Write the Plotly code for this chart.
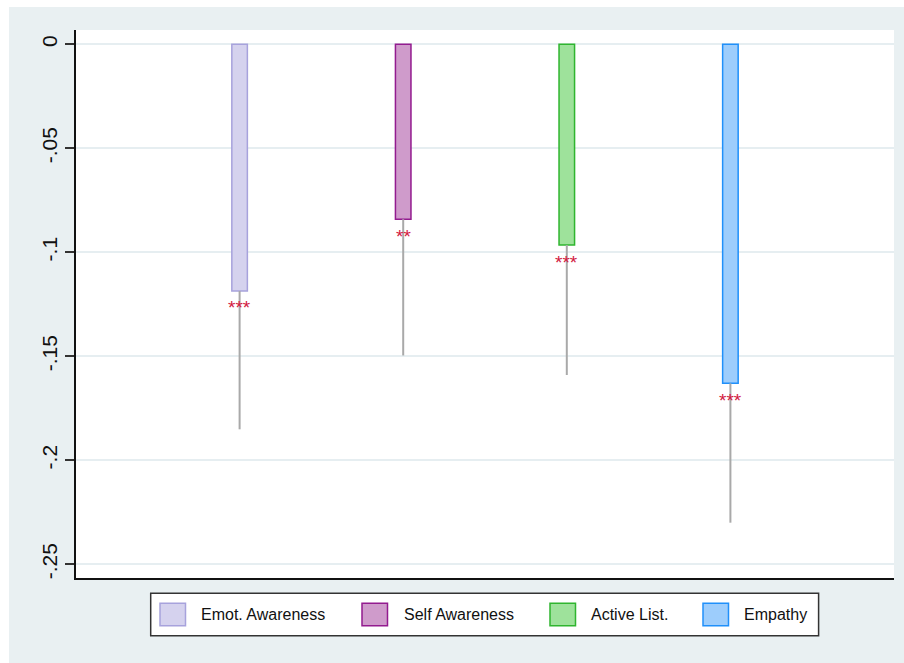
import plotly.graph_objects as go

# Estimated coefficients with lower 95% bounds for each skill
categories = ["Emot. Awareness", "Self Awareness", "Active List.", "Empathy"]
coef = [-0.1186, -0.0841, -0.0965, -0.1630]
ci_low = [-0.1851, -0.1496, -0.1590, -0.2300]
stars = ["***", "**", "***", "***"]
tick_vals = [0, -0.05, -0.10, -0.15, -0.20, -0.25]
tick_text = ["0", "-.05", "-.1", "-.15", "-.2", "-.25"]

fills = ["#d5d2ee", "#cf9bcb", "#9ee29b", "#9dcdfc"]
edges = ["#a7a2dc", "#931b8f", "#2fb52f", "#2090fa"]

W, H = 904, 663
L, R, T, B = 76, 10, 30, 85
pw, ph = W - L - R, H - T - B


def px_x(p):
    return (p - L) / pw


def px_y(p):
    return (H - B - p) / ph


fig = go.Figure()
for i, (name, v, lo) in enumerate(zip(categories, coef, ci_low)):
    fig.add_trace(go.Bar(
        x=[i + 1], y=[v], name=name, width=0.095,
        marker=dict(color=fills[i], line=dict(color=edges[i], width=1.5)),
        error_y=dict(type="data", symmetric=False, array=[0], arrayminus=[v - lo],
                     color="#a9a9a9", thickness=2, width=0),
        showlegend=False, hoverinfo="skip",
    ))

annotations = []
for i, (v, s) in enumerate(zip(coef, stars)):
    annotations.append(dict(
        x=i + 1, y=v, xref="x", yref="y", text=s, showarrow=False,
        yanchor="middle", yshift=-17,
        font=dict(family="Liberation Sans, Arial", size=19, color="#d2193f"),
    ))

shapes = [
    # white edge strips around the outer panel
    dict(type="rect", xref="paper", yref="paper", x0=px_x(0), x1=px_x(9),
         y0=px_y(H), y1=px_y(0), fillcolor="white", line=dict(width=0), layer="above"),
    dict(type="rect", xref="paper", yref="paper", x0=px_x(0), x1=px_x(W),
         y0=px_y(7), y1=px_y(0), fillcolor="white", line=dict(width=0), layer="above"),
    # legend frame
    dict(type="rect", xref="paper", yref="paper", x0=px_x(150.7), x1=px_x(818.6),
         y0=px_y(635.7), y1=px_y(593.3), fillcolor="white",
         line=dict(color="#333333", width=1.5), layer="above"),
]

# legend swatches and labels
sw_left = [160, 362, 550, 703]
txt_left = [199, 401.5, 589, 742]
for i, name in enumerate(categories):
    shapes.append(dict(
        type="rect", xref="paper", yref="paper",
        x0=px_x(sw_left[i]), x1=px_x(sw_left[i] + 25.5),
        y0=px_y(625.7), y1=px_y(603.3),
        fillcolor=fills[i], line=dict(color=edges[i], width=1.5), layer="above",
    ))
    annotations.append(dict(
        x=px_x(txt_left[i]), y=px_y(615), xref="paper", yref="paper",
        text=name, showarrow=False, xanchor="left", yanchor="middle",
        font=dict(family="Liberation Sans, Arial", size=16, color="#111111"),
    ))

fig.update_layout(
    width=W, height=H,
    margin=dict(l=L, r=R, t=T, b=B),
    paper_bgcolor="#e9f0f2",
    plot_bgcolor="white",
    barmode="overlay",
    showlegend=False,
    shapes=shapes,
    annotations=annotations,
    font=dict(family="Liberation Sans, Arial", color="#111111"),
)

fig.update_xaxes(
    range=[0, 5], showgrid=False, zeroline=False, showticklabels=False,
    ticks="", showline=True, linecolor="#111111", linewidth=2,
)

fig.update_yaxes(
    range=[-0.25659, 0.006875], tickvals=tick_vals, ticktext=tick_text,
    tickangle=-90, tickfont=dict(family="Liberation Sans, Arial", size=21, color="#111111"),
    ticks="outside", ticklen=9, tickwidth=1.5, tickcolor="#333333",
    showgrid=True, gridcolor="#e6eef1", gridwidth=2, zeroline=False,
    showline=True, linecolor="#111111", linewidth=1.5,
)

fig.write_html("out.html")
